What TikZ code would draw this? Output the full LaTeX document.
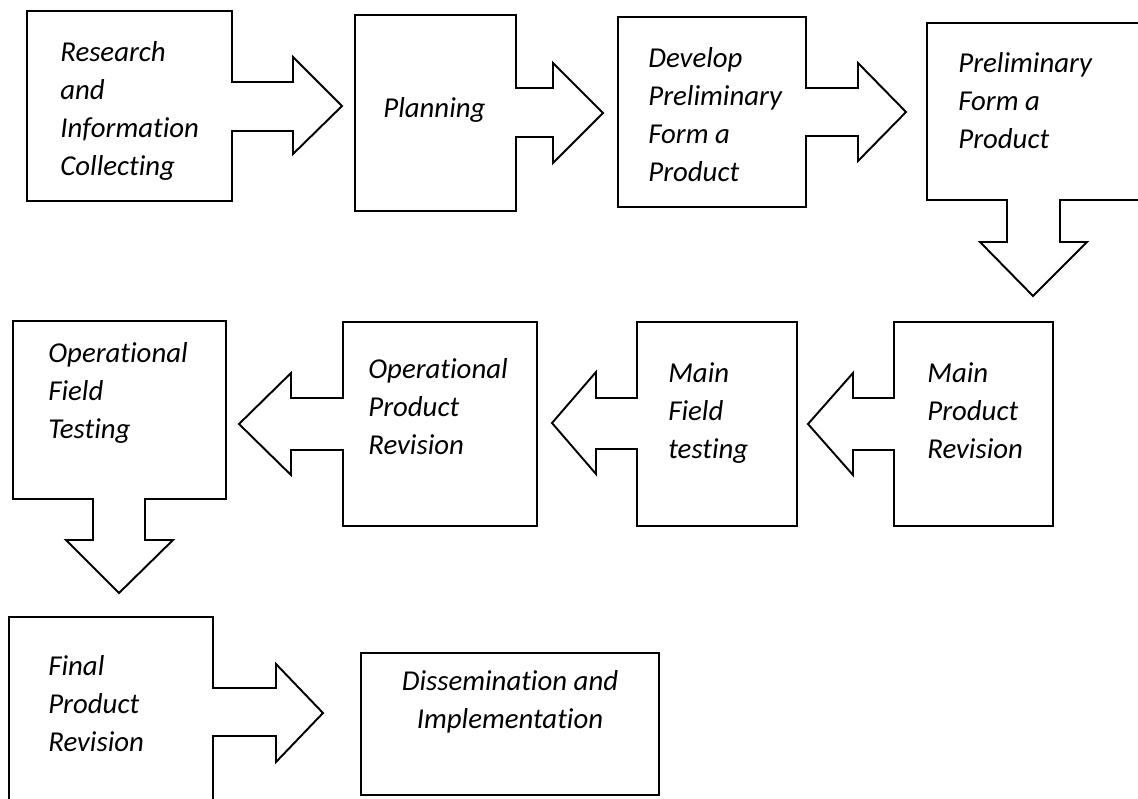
\documentclass[tikz,border=0pt]{standalone}
\usepackage{fontspec}
\setmainfont{Carlito}[Ligatures={NoCommon}]
\usepackage{tikz}

\begin{document}
\begin{tikzpicture}[x=0.02cm, y=-0.02cm,
		stagebox/.style={line width=1.1pt, line join=miter},
		endbox/.style={line width=0.7pt},
		stagetext/.style={font=\itshape\fontsize{16.4}{21.6}\selectfont, align=left, anchor=base west, inner sep=0pt}]
	\useasboundingbox (0,0) rectangle (1138,798);
	
	% --- ROW 1: LEFT TO RIGHT ---
	% (text nodes sit on the baseline of their last line)
	\draw[stagebox] (27,11) -- (232,11) -- (232,82) -- (293,82) -- (293,57) -- (342,106) -- (293,154) -- (293,131) -- (232,131) -- (232,201) -- (27,201) -- cycle;
	\node[stagetext] (research) at (60,175) {Research\\and\\Information\\Collecting};
	
	\draw[stagebox] (355,15) -- (516,15) -- (516,88) -- (553,88) -- (553,63) -- (603,113) -- (553,163) -- (553,137) -- (516,137) -- (516,211) -- (355,211) -- cycle;
	\node[stagetext] (planning) at (383,117) {Planning};
	
	\draw[stagebox] (618,17) -- (806,17) -- (806,88) -- (858,88) -- (858,63) -- (906,112) -- (858,161) -- (858,136) -- (806,136) -- (806,207) -- (618,207) -- cycle;
	\node[stagetext] (develop) at (648,181) {Develop\\Preliminary\\Form a\\Product};
	
	% box runs off the right edge
	\draw[stagebox] (1150,23) -- (927,23) -- (927,200) -- (1007,200) -- (1007,242) -- (980,242) -- (1033,296) -- (1087,242) -- (1060,242) -- (1060,200) -- (1150,200);
	\node[stagetext] (prelim) at (958,148) {Preliminary\\Form a\\Product};
	
	% --- ROW 2: RIGHT TO LEFT ---
	\draw[stagebox] (894,322) -- (1053,322) -- (1053,526) -- (894,526) -- (894,450) -- (853,450) -- (853,475) -- (808,424) -- (853,373) -- (853,398) -- (894,398) -- cycle;
	\node[stagetext] (mainrev) at (927,458) {Main\\Product\\Revision};
	
	\draw[stagebox] (637,322) -- (797,322) -- (797,526) -- (637,526) -- (637,449) -- (596,449) -- (596,474) -- (552,423) -- (596,372) -- (596,398) -- (637,398) -- cycle;
	\node[stagetext] (mainfield) at (668,458) {Main\\Field\\testing};
	
	\draw[stagebox] (343,322) -- (537,322) -- (537,526) -- (343,526) -- (343,450) -- (291,450) -- (291,475) -- (239,424) -- (291,373) -- (291,398) -- (343,398) -- cycle;
	\node[stagetext] (oprev) at (368,454) {Operational\\Product\\Revision};
	
	\draw[stagebox] (13,321) -- (226,321) -- (226,499) -- (145,499) -- (145,540) -- (173,540) -- (119,593) -- (66,540) -- (93,540) -- (93,499) -- (13,499) -- cycle;
	\node[stagetext] (opfield) at (48,438) {Operational\\Field\\Testing};
	
	% --- ROW 3 ---
	% box runs off the bottom edge
	\draw[stagebox] (9,810) -- (9,617) -- (213,617) -- (213,688) -- (276,688) -- (276,664) -- (323,713) -- (276,762) -- (276,736) -- (213,736) -- (213,810);
	\node[stagetext] (finalrev) at (48,751) {Final\\Product\\Revision};
	
	\draw[endbox] (361,653) rectangle (659,795);
	\node[stagetext, align=center, anchor=base] (dissem) at (510,728) {Dissemination and\\Implementation};
\end{tikzpicture}
\end{document}
